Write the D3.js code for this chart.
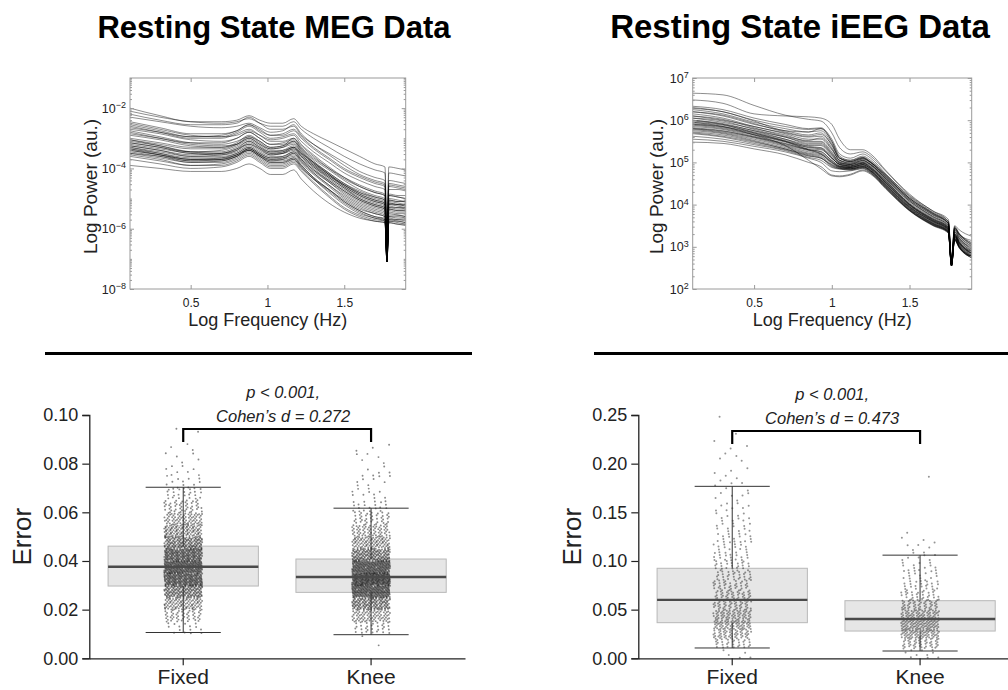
<!DOCTYPE html>
<html><head><meta charset="utf-8">
<script src="https://cdn.jsdelivr.net/npm/d3@7"></script>
<style>body{margin:0;background:#fff;} svg{display:block;font-family:"Liberation Sans",Arial,Helvetica,sans-serif;}</style>
</head><body><svg id="c" width="1008" height="690"></svg>
<script>
// ---------------- DATA ----------------
const panelTitles = ["Resting State MEG Data", "Resting State iEEG Data"];
const categories = ["Fixed", "Knee"];
const freqTicks = [0.5, 1, 1.5];
const freqDomain = [0.105, 1.9];
const megPowerDomain = [1e-8, 1e-1];
const megPowerTicks = [1e-8, 1e-6, 1e-4, 1e-2];
const ieegPowerDomain = [1e2, 1e7];
const ieegPowerTicks = [1e2, 1e3, 1e4, 1e5, 1e6, 1e7];

// log10 frequency sample points and log10 power per spectrum
const megFreqLog = [0.105,0.3,0.5,0.7,0.8,0.88,0.95,1.02,1.10,1.17,1.22,1.30,1.40,1.50,1.60,1.70,1.765,1.778,1.79,1.85,1.9];
const megSpectra = [
 [-2.0,-2.25,-2.45,-2.45,-2.4,-2.25,-2.4,-2.5,-2.5,-2.35,-2.6,-2.85,-3.1,-3.35,-3.6,-3.85,-3.95,-6.2,-3.95,-4.0,-4.05],
 [-2.1,-2.3,-2.45,-2.5,-2.45,-2.35,-2.5,-2.6,-2.6,-2.45,-2.7,-3.0,-3.3,-3.6,-3.85,-4.05,-4.15,-6.4,-4.15,-4.2,-4.25],
 [-2.2,-2.4,-2.55,-2.55,-2.5,-2.3,-2.5,-2.7,-2.7,-2.6,-2.9,-3.2,-3.5,-3.8,-4.1,-4.3,-4.4,-6.5,-4.4,-4.45,-4.5],
 [-2.3,-2.45,-2.6,-2.65,-2.6,-2.5,-2.65,-2.8,-2.75,-2.55,-2.85,-3.2,-3.55,-3.9,-4.2,-4.4,-4.5,-6.6,-4.5,-4.55,-4.6],
 [-2.55,-2.75,-2.95,-2.95,-2.8,-2.6,-2.8,-3.0,-2.95,-2.85,-3.1,-3.45,-3.8,-4.15,-4.4,-4.6,-4.7,-6.8,-4.7,-4.7,-4.75],
 [-2.6,-2.8,-3.0,-3.0,-2.85,-2.7,-2.9,-3.1,-3.1,-3.0,-3.25,-3.6,-4.0,-4.35,-4.6,-4.8,-4.9,-6.9,-4.9,-4.95,-5.0],
 [-2.7,-2.85,-3.05,-3.1,-3.0,-2.8,-3.0,-3.2,-3.15,-3.05,-3.35,-3.75,-4.15,-4.5,-4.75,-4.95,-5.05,-7.0,-5.05,-5.1,-5.1],
 [-2.75,-2.95,-3.15,-3.2,-3.1,-2.95,-3.1,-3.3,-3.25,-3.15,-3.45,-3.85,-4.25,-4.6,-4.9,-5.1,-5.2,-7.0,-5.2,-5.2,-5.25],
 [-2.8,-3.0,-3.2,-3.25,-3.2,-3.0,-3.2,-3.4,-3.4,-3.3,-3.55,-3.9,-4.3,-4.65,-5.0,-5.2,-5.3,-7.1,-5.3,-5.3,-5.35],
 [-3.05,-3.2,-3.35,-3.35,-3.2,-2.95,-3.15,-3.35,-3.3,-3.1,-3.35,-3.7,-4.05,-4.4,-4.7,-4.9,-5.0,-6.9,-5.0,-5.05,-5.1],
 [-3.1,-3.25,-3.45,-3.5,-3.4,-3.2,-3.35,-3.5,-3.5,-3.4,-3.65,-4.0,-4.4,-4.75,-5.05,-5.25,-5.35,-7.0,-5.35,-5.4,-5.4],
 [-3.15,-3.3,-3.45,-3.4,-3.25,-3.05,-3.25,-3.45,-3.45,-3.3,-3.5,-3.8,-4.15,-4.5,-4.8,-5.0,-5.1,-7.0,-5.1,-5.15,-5.2],
 [-3.2,-3.35,-3.5,-3.55,-3.45,-3.25,-3.45,-3.6,-3.6,-3.45,-3.7,-4.05,-4.45,-4.85,-5.15,-5.35,-5.45,-7.1,-5.45,-5.5,-5.5],
 [-3.25,-3.4,-3.6,-3.6,-3.5,-3.3,-3.5,-3.65,-3.65,-3.55,-3.8,-4.15,-4.55,-4.95,-5.25,-5.45,-5.55,-7.1,-5.55,-5.55,-5.6],
 [-3.3,-3.45,-3.6,-3.55,-3.4,-3.15,-3.35,-3.55,-3.5,-3.35,-3.6,-3.95,-4.3,-4.65,-4.95,-5.15,-5.25,-7.0,-5.25,-5.3,-5.3],
 [-3.35,-3.5,-3.65,-3.65,-3.55,-3.35,-3.55,-3.7,-3.7,-3.6,-3.85,-4.2,-4.6,-5.0,-5.3,-5.5,-5.6,-7.1,-5.6,-5.65,-5.65],
 [-3.4,-3.55,-3.7,-3.7,-3.6,-3.4,-3.6,-3.75,-3.75,-3.65,-3.9,-4.3,-4.7,-5.1,-5.4,-5.6,-5.7,-7.1,-5.7,-5.7,-5.75],
 [-3.45,-3.6,-3.8,-3.8,-3.65,-3.45,-3.65,-3.85,-3.85,-3.7,-3.95,-4.35,-4.75,-5.15,-5.45,-5.65,-5.7,-7.1,-5.7,-5.75,-5.8],
 [-3.5,-3.65,-3.8,-3.75,-3.6,-3.35,-3.55,-3.75,-3.7,-3.5,-3.75,-4.1,-4.45,-4.8,-5.1,-5.3,-5.4,-7.0,-5.4,-5.45,-5.45],
 [-3.55,-3.7,-3.9,-3.9,-3.75,-3.55,-3.75,-3.95,-3.95,-3.8,-4.05,-4.45,-4.9,-5.3,-5.55,-5.7,-5.75,-7.1,-5.75,-5.8,-5.85],
 [-3.6,-3.75,-3.9,-3.85,-3.7,-3.5,-3.7,-3.9,-3.9,-3.75,-4.0,-4.35,-4.7,-5.05,-5.35,-5.5,-5.6,-7.0,-5.6,-5.6,-5.65],
 [-3.7,-3.85,-4.0,-3.95,-3.8,-3.6,-3.8,-4.0,-4.0,-3.85,-4.1,-4.5,-4.95,-5.35,-5.6,-5.75,-5.8,-7.1,-5.8,-5.85,-5.85],
 [-3.9,-4.0,-4.1,-4.1,-4.0,-3.85,-4.0,-4.2,-4.2,-4.05,-4.35,-4.75,-5.15,-5.45,-5.65,-5.75,-5.8,-7.1,-5.8,-5.85,-5.9],
 [-2.65,-2.8,-2.95,-2.9,-2.75,-2.55,-2.7,-2.9,-2.9,-2.75,-3.0,-3.35,-3.7,-4.05,-4.3,-4.5,-4.6,-6.7,-4.6,-4.65,-4.7],
 [-3.0,-3.15,-3.3,-3.3,-3.15,-2.9,-3.1,-3.3,-3.25,-3.0,-3.3,-3.65,-4.0,-4.3,-4.55,-4.75,-4.85,-6.8,-4.85,-4.9,-4.9],
 [-3.35,-3.55,-3.75,-3.75,-3.6,-3.4,-3.6,-3.8,-3.8,-3.7,-3.95,-4.35,-4.8,-5.2,-5.5,-5.65,-5.75,-7.1,-5.75,-5.75,-5.8],
 [-2.9,-3.05,-3.25,-3.3,-3.2,-3.0,-3.2,-3.35,-3.3,-3.2,-3.45,-3.8,-4.2,-4.55,-4.85,-5.05,-5.15,-7.0,-5.15,-5.2,-5.2],
 [-3.25,-3.4,-3.55,-3.5,-3.35,-3.1,-3.3,-3.5,-3.45,-3.3,-3.55,-3.9,-4.25,-4.55,-4.8,-4.95,-5.05,-6.9,-5.05,-5.1,-5.1],
 [-2.45,-2.65,-2.85,-2.85,-2.75,-2.55,-2.75,-2.9,-2.85,-2.7,-2.95,-3.3,-3.65,-4.0,-4.25,-4.45,-4.55,-6.6,-4.55,-4.6,-4.65],
 [-2.85,-3.0,-3.15,-3.15,-3.0,-2.8,-3.0,-3.2,-3.2,-3.1,-3.4,-3.8,-4.2,-4.6,-4.9,-5.1,-5.2,-7.0,-5.2,-5.25,-5.3],
 [-3.05,-3.25,-3.45,-3.45,-3.3,-3.1,-3.3,-3.45,-3.4,-3.25,-3.5,-3.85,-4.2,-4.55,-4.85,-5.05,-5.15,-6.9,-5.15,-5.2,-5.25],
 [-3.15,-3.3,-3.5,-3.5,-3.35,-3.2,-3.4,-3.55,-3.5,-3.35,-3.6,-3.95,-4.35,-4.7,-5.0,-5.2,-5.3,-7.0,-5.3,-5.35,-5.35],
 [-3.4,-3.55,-3.7,-3.65,-3.5,-3.3,-3.5,-3.65,-3.6,-3.45,-3.7,-4.05,-4.4,-4.75,-5.05,-5.25,-5.35,-7.0,-5.35,-5.4,-5.4],
 [-3.5,-3.6,-3.75,-3.7,-3.55,-3.4,-3.6,-3.8,-3.8,-3.65,-3.9,-4.3,-4.7,-5.1,-5.4,-5.6,-5.65,-7.1,-5.65,-5.7,-5.7],
 [-2.5,-2.7,-2.9,-2.95,-2.9,-2.75,-2.9,-3.05,-3.0,-2.9,-3.2,-3.55,-3.95,-4.3,-4.6,-4.8,-4.9,-6.9,-4.9,-4.95,-5.0],
 [-3.3,-3.5,-3.7,-3.7,-3.55,-3.35,-3.55,-3.7,-3.65,-3.5,-3.75,-4.15,-4.55,-4.9,-5.2,-5.4,-5.5,-7.0,-5.5,-5.55,-5.6]
];

const ieegFreqLog = [0.105,0.3,0.5,0.7,0.85,0.93,1.0,1.05,1.12,1.2,1.25,1.35,1.5,1.65,1.75,1.77,1.79,1.82,1.9];
const ieegSpectra = [
 [6.64,6.6,6.35,6.12,6.02,5.98,5.7,5.35,5.2,5.25,5.15,4.78,4.22,3.85,3.6,2.7,3.45,3.3,3.15],
 [6.48,6.4,6.15,6.1,6.08,6.05,5.9,5.55,5.3,5.3,5.2,4.8,4.25,3.85,3.65,2.75,3.5,3.4,3.25],
 [6.33,6.25,6.05,5.9,5.8,5.82,5.55,5.2,5.1,5.2,5.1,4.72,4.18,3.8,3.55,2.7,3.45,3.3,3.05],
 [6.28,6.2,6.0,5.85,5.78,5.8,5.5,5.15,5.05,5.15,5.05,4.7,4.15,3.78,3.55,2.65,3.4,3.25,3.0],
 [6.25,6.15,5.95,5.8,5.72,5.75,5.45,5.1,5.05,5.12,5.0,4.68,4.12,3.75,3.52,2.65,3.38,3.22,2.98],
 [6.2,6.1,5.9,5.75,5.65,5.7,5.4,5.1,5.02,5.1,5.0,4.65,4.1,3.72,3.5,2.62,3.35,3.2,2.95],
 [6.15,6.05,5.85,5.7,5.6,5.62,5.35,5.05,5.0,5.08,4.98,4.62,4.08,3.7,3.48,2.62,3.32,3.18,2.92],
 [6.1,6.0,5.85,5.68,5.55,5.55,5.3,5.05,4.98,5.05,4.95,4.6,4.05,3.68,3.46,2.6,3.3,3.15,2.9],
 [6.05,5.95,5.8,5.65,5.5,5.5,5.25,5.0,4.95,5.05,4.95,4.58,4.02,3.66,3.45,2.6,3.3,3.12,2.88],
 [6.0,5.92,5.75,5.6,5.45,5.45,5.2,5.0,4.95,5.0,4.92,4.56,4.0,3.65,3.44,2.6,3.28,3.1,2.85],
 [5.95,5.88,5.72,5.55,5.42,5.4,5.15,4.98,4.92,5.0,4.9,4.55,4.0,3.63,3.42,2.58,3.27,3.1,2.85],
 [5.92,5.85,5.7,5.52,5.38,5.35,5.12,4.95,4.92,4.98,4.88,4.52,3.98,3.62,3.42,2.58,3.25,3.08,2.83],
 [5.9,5.82,5.66,5.5,5.35,5.32,5.1,4.95,4.9,4.98,4.88,4.5,3.96,3.6,3.4,2.58,3.25,3.08,2.82],
 [5.88,5.8,5.65,5.48,5.32,5.3,5.1,4.95,4.9,4.95,4.85,4.5,3.95,3.6,3.4,2.56,3.24,3.06,2.8],
 [5.85,5.78,5.62,5.45,5.3,5.25,5.05,4.92,4.88,4.95,4.85,4.48,3.94,3.58,3.38,2.56,3.22,3.05,2.8],
 [5.82,5.75,5.6,5.42,5.28,5.22,5.02,4.9,4.88,4.92,4.82,4.46,3.92,3.57,3.38,2.55,3.22,3.04,2.78],
 [5.8,5.72,5.58,5.4,5.25,5.2,5.0,4.9,4.86,4.92,4.82,4.45,3.92,3.56,3.37,2.55,3.2,3.02,2.78],
 [5.78,5.7,5.55,5.38,5.22,5.18,4.98,4.88,4.85,4.9,4.8,4.44,3.9,3.55,3.36,2.55,3.2,3.02,2.77],
 [5.75,5.68,5.52,5.35,5.2,5.15,4.95,4.88,4.85,4.9,4.8,4.42,3.9,3.55,3.36,2.55,3.19,3.0,2.77],
 [5.72,5.65,5.5,5.32,5.18,5.12,4.92,4.86,4.84,4.88,4.78,4.42,3.88,3.54,3.35,2.55,3.18,3.0,2.76],
 [5.68,5.6,5.45,5.3,5.15,5.1,4.9,4.85,4.82,4.88,4.78,4.4,3.88,3.53,3.35,2.55,3.18,3.0,2.76],
 [5.62,5.55,5.42,5.28,5.12,5.05,4.88,4.84,4.82,4.86,4.76,4.4,3.87,3.52,3.34,2.55,3.17,2.99,2.75],
 [5.55,5.5,5.38,5.25,5.1,5.0,4.8,4.78,4.8,4.85,4.75,4.38,3.86,3.52,3.34,2.55,3.17,2.98,2.75],
 [5.48,5.45,5.32,5.18,5.0,4.9,4.7,4.68,4.72,4.82,4.74,4.38,3.86,3.51,3.33,2.55,3.16,2.98,2.74],
 [5.95,5.85,5.65,5.4,5.05,4.85,4.68,4.66,4.7,4.8,4.72,4.36,3.85,3.5,3.32,2.55,3.15,2.97,2.74],
 [6.3,6.2,5.98,5.75,5.72,5.8,5.5,5.12,5.02,5.12,5.02,4.7,4.2,3.82,3.6,2.7,3.48,3.32,3.1],
 [6.1,6.02,5.82,5.62,5.52,5.58,5.32,5.05,4.98,5.08,5.0,4.66,4.15,3.8,3.58,2.68,3.45,3.3,3.08],
 [5.98,5.9,5.75,5.55,5.4,5.42,5.18,4.98,4.95,5.02,4.95,4.62,4.12,3.76,3.55,2.66,3.42,3.28,3.05],
 [6.05,5.98,5.78,5.6,5.48,5.48,5.22,5.02,4.96,5.04,4.94,4.6,4.08,3.72,3.5,2.62,3.35,3.2,2.95],
 [5.9,5.84,5.68,5.5,5.36,5.34,5.1,4.96,4.92,4.98,4.88,4.54,4.02,3.66,3.46,2.6,3.3,3.15,2.9],
 [5.7,5.62,5.48,5.32,5.16,5.1,4.94,4.86,4.84,4.9,4.8,4.45,3.94,3.6,3.4,2.58,3.24,3.08,2.84],
 [6.2,6.12,5.92,5.72,5.62,5.66,5.42,5.1,5.02,5.1,5.0,4.66,4.15,3.78,3.55,2.66,3.42,3.26,3.02],
 [5.8,5.74,5.6,5.44,5.3,5.26,5.04,4.92,4.88,4.94,4.84,4.5,3.98,3.62,3.42,2.58,3.26,3.1,2.86],
 [6.0,5.9,5.7,5.5,5.3,5.2,5.0,4.9,4.88,4.95,4.86,4.52,4.0,3.64,3.44,2.6,3.28,3.12,2.88]
];

// Box plot summaries (Fixed, Knee)
const megErrTicks = [0, 0.02, 0.04, 0.06, 0.08, 0.10];
const megMedian = [0.0376, 0.0334];
const megQ1 = [0.0297, 0.0271];
const megQ3 = [0.0461, 0.0408];
const megWhiskLo = [0.0106, 0.0097];
const megWhiskHi = [0.0703, 0.0617];
const ieegErrTicks = [0, 0.05, 0.10, 0.15, 0.20, 0.25];
const ieegMedian = [0.060, 0.0404];
const ieegQ1 = [0.0366, 0.028];
const ieegQ3 = [0.0925, 0.0592];
const ieegWhiskLo = [0.0106, 0.0075];
const ieegWhiskHi = [0.1767, 0.106];

// Error distributions: point counts per bin
const megBinStart = 0.005, megBinWidth = 0.005;
const megFixedCounts = [0,15,50,100,170,240,260,220,160,110,75,45,25,12,8,5,3,2];
const megKneeCounts  = [2,30,80,160,260,320,260,170,100,65,40,20,10,8,6,5,3];
const ieegBinStart = 0.0, ieegBinWidth = 0.01;
const ieegFixedCounts = [5,30,55,70,65,50,45,35,30,25,20,16,14,12,10,8,6,4,4,3,3,3,1,1,1];
const ieegKneeCounts  = [10,45,75,85,70,50,30,22,15,12,8,5,3,0,0,0,0,0,1];

const statLines = [["p < 0.001,", "Cohen\u2019s d = 0.272"], ["p < 0.001,", "Cohen\u2019s d = 0.473"]];

// ---------------- DRAW ----------------
const svg = d3.select("#c");
const TXT = "#222";

function frac(v){ return v - Math.floor(v); }

function drawSpectrum(frame, yDomain, yTicks, freqs, spectra, clipId){
  const g = svg.append("g");
  const x = d3.scaleLinear().domain(freqDomain).range([frame.x0, frame.x1]);
  const y = d3.scaleLog().domain(yDomain).range([frame.y1, frame.y0]);
  g.append("clipPath").attr("id", clipId).append("rect")
    .attr("x", frame.x0).attr("y", frame.y0).attr("width", frame.x1-frame.x0).attr("height", frame.y1-frame.y0);
  const line = d3.line().x((d,i)=>x(freqs[i])).y(d=>y(Math.pow(10,d))).curve(d3.curveMonotoneX);
  g.append("g").attr("clip-path", `url(#${clipId})`).selectAll("path").data(spectra).join("path")
    .attr("d", line).attr("fill","none").attr("stroke","#000").attr("stroke-width",0.6).attr("stroke-opacity",0.75);
  const minors = [];
  const e0 = Math.round(Math.log10(yDomain[0])), e1 = Math.round(Math.log10(yDomain[1]));
  for(let e=e0;e<e1;e++) for(let m=2;m<=9;m++) minors.push(m*Math.pow(10,e));
  for(let e=e0;e<=e1;e++) if(!yTicks.includes(Math.pow(10,e))) minors.push(Math.pow(10,e));
  const frameC = "#9a9a9a";
  const styl = s => { s.select(".domain").remove(); s.selectAll("line").attr("stroke", frameC); };
  g.append("g").attr("transform",`translate(${frame.x0},0)`).call(d3.axisLeft(y).tickValues(minors).tickSizeInner(-2).tickSizeOuter(0).tickFormat("")).call(styl);
  g.append("g").attr("transform",`translate(${frame.x1},0)`).call(d3.axisRight(y).tickValues(minors).tickSizeInner(-2).tickSizeOuter(0).tickFormat("")).call(styl);
  g.append("g").attr("transform",`translate(${frame.x1},0)`).call(d3.axisRight(y).tickValues(yTicks).tickSizeInner(-4).tickSizeOuter(0).tickFormat("")).call(styl);
  g.append("g").attr("transform",`translate(0,${frame.y0})`).call(d3.axisTop(x).tickValues(freqTicks).tickSizeInner(-4).tickSizeOuter(0).tickFormat("")).call(styl);
  const xa = g.append("g").attr("transform",`translate(0,${frame.y1})`)
    .call(d3.axisBottom(x).tickValues(freqTicks).tickSizeInner(-4).tickSizeOuter(0).tickPadding(9).tickFormat(d=>d3.format("")(d))).call(styl);
  xa.selectAll("text").attr("font-size",12).attr("fill",TXT).attr("font-family","inherit");
  const ya = g.append("g").attr("transform",`translate(${frame.x0},0)`)
    .call(d3.axisLeft(y).tickValues(yTicks).tickSizeInner(-4).tickSizeOuter(0).tickPadding(4)).call(styl);
  ya.selectAll("text").attr("font-size",12.5).attr("fill",TXT).attr("font-family","inherit").each(function(d){
    const t = d3.select(this).text(null);
    t.append("tspan").text("10");
    t.append("tspan").attr("dy","-0.5em").attr("font-size","0.72em").text(String(Math.round(Math.log10(d))).replace("-","\u2212"));
  });
  g.append("rect").attr("x",frame.x0).attr("y",frame.y0).attr("width",frame.x1-frame.x0).attr("height",frame.y1-frame.y0)
    .attr("fill","none").attr("stroke",frameC).attr("stroke-width",1);
  g.append("text").attr("x",(frame.x0+frame.x1)/2).attr("y",frame.y1+37).attr("text-anchor","middle")
    .attr("font-size",18).attr("fill",TXT).text("Log Frequency (Hz)");
  g.append("text").attr("transform",`translate(${frame.x0-frame.labelOff},${(frame.y0+frame.y1)/2+3}) rotate(-90)`)
    .attr("text-anchor","middle").attr("dy","0.35em").attr("font-size",19).attr("fill",TXT).text("Log Power (au.)");
}

function drawBox(area, ticks, med, q1, q3, wlo, whi, binStart, binW, countsList, stat){
  const g = svg.append("g");
  const x = d3.scaleBand().domain(categories).range([area.x0, area.x1]).paddingInner(0).paddingOuter(0);
  const y = d3.scaleLinear().domain([ticks[0], ticks[ticks.length-1]]).range([area.y1, area.y0]);
  const bw = x.bandwidth()*0.8, cx = c => x(c)+x.bandwidth()/2;
  g.selectAll("rect.box").data(categories).join("rect").attr("class","box")
    .attr("x", c=>cx(c)-bw/2).attr("width", bw)
    .attr("y", (c,i)=>y(q3[i])).attr("height",(c,i)=>y(q1[i])-y(q3[i]))
    .attr("fill","#e6e6e6").attr("stroke","#b8b8b8").attr("stroke-width",1);
  const pts = [];
  countsList.forEach((counts, ci) => {
    let j = 0;
    counts.forEach((n, b) => {
      for(let k=0;k<n;k++){ j++;
        pts.push({c: categories[ci], v: binStart + b*binW + frac(j*0.7548776662+0.31)*binW, jx: frac(j*0.5698402910+0.13)});
      }
    });
  });
  g.append("g").selectAll("circle").data(pts).join("circle")
    .attr("cx", d=>cx(d.c)+(d.jx-0.5)*38).attr("cy", d=>y(d.v)).attr("r",area.r)
    .attr("fill","#111").attr("fill-opacity",area.op);
  categories.forEach((c,i)=>{
    g.append("line").attr("x1",cx(c)).attr("x2",cx(c)).attr("y1",y(wlo[i])).attr("y2",y(q1[i])).attr("stroke","#333").attr("stroke-width",1);
    g.append("line").attr("x1",cx(c)).attr("x2",cx(c)).attr("y1",y(q3[i])).attr("y2",y(whi[i])).attr("stroke","#333").attr("stroke-width",1);
    [wlo[i], whi[i]].forEach(v=> g.append("line").attr("x1",cx(c)-bw/4).attr("x2",cx(c)+bw/4).attr("y1",y(v)).attr("y2",y(v)).attr("stroke","#333").attr("stroke-width",1));
    g.append("line").attr("x1",cx(c)-bw/2).attr("x2",cx(c)+bw/2).attr("y1",y(med[i])).attr("y2",y(med[i])).attr("stroke","#4a4a4a").attr("stroke-width",2.4);
  });
  const ya = g.append("g").attr("transform",`translate(${area.x0},0)`)
    .call(d3.axisLeft(y).tickValues(ticks).tickFormat(d3.format(".2f")).tickSize(7).tickPadding(4));
  ya.selectAll("text").attr("font-size",18).attr("fill",TXT).attr("font-family","inherit");
  const xa = g.append("g").attr("transform",`translate(0,${area.y1})`)
    .call(d3.axisBottom(x).tickSize(7).tickSizeOuter(0).tickPadding(4));
  xa.selectAll("text").attr("font-size",21).attr("fill",TXT).attr("font-family","inherit");
  [ya, xa].forEach(a=>{ a.select(".domain").attr("stroke","#222").attr("stroke-width",1.3); a.selectAll(".tick line").attr("stroke","#222").attr("stroke-width",1.2); });
  g.append("text").attr("transform",`translate(${area.labelX},${(area.y0+area.y1)/2}) rotate(-90)`)
    .attr("text-anchor","middle").attr("dy","0.35em").attr("font-size",26).attr("fill",TXT).text("Error");
  const bx1 = cx(categories[0]), bx2 = cx(categories[1]);
  g.append("path").attr("d",`M${bx1},${area.brY+13}V${area.brY}H${bx2}V${area.brY+13}`)
    .attr("fill","none").attr("stroke","#000").attr("stroke-width",2.2);
  g.append("text").attr("x",(bx1+bx2)/2+6).attr("y",area.brY-31).attr("text-anchor","middle")
    .attr("font-size",16.5).attr("font-style","italic").attr("fill",TXT).text(stat[0]);
  g.append("text").attr("x",(bx1+bx2)/2+6).attr("y",area.brY-7.5).attr("text-anchor","middle")
    .attr("font-size",16.5).attr("font-style","italic").attr("fill",TXT).text(stat[1]);
}

// titles
[[274, 31, panelTitles[0]], [800, 33, panelTitles[1]]].forEach(([cx, fs, t]) =>
  svg.append("text").attr("x",cx).attr("y",38).attr("text-anchor","middle").attr("font-size",fs)
    .attr("font-weight","bold").attr("fill","#000").text(t));

drawSpectrum({x0:130, x1:405.7, y0:78, y1:289, labelOff:40}, megPowerDomain, megPowerTicks, megFreqLog, megSpectra, "clipA");
drawSpectrum({x0:692.7, x1:971.7, y0:78, y1:289, labelOff:36}, ieegPowerDomain, ieegPowerTicks, ieegFreqLog, ieegSpectra, "clipB");

// separators
svg.append("line").attr("x1",45).attr("x2",472).attr("y1",353.5).attr("y2",353.5).attr("stroke","#000").attr("stroke-width",3);
svg.append("line").attr("x1",594).attr("x2",1021).attr("y1",353.5).attr("y2",353.5).attr("stroke","#000").attr("stroke-width",3);

drawBox({x0:89.3, x1:465, y0:415, y1:658.3, labelX:22, brY:429, r:0.95, op:0.5}, megErrTicks, megMedian, megQ1, megQ3, megWhiskLo, megWhiskHi,
  megBinStart, megBinWidth, [megFixedCounts, megKneeCounts], statLines[0]);
drawBox({x0:638.3, x1:1014, y0:415, y1:658.3, labelX:572, brY:431, r:1, op:0.45}, ieegErrTicks, ieegMedian, ieegQ1, ieegQ3, ieegWhiskLo, ieegWhiskHi,
  ieegBinStart, ieegBinWidth, [ieegFixedCounts, ieegKneeCounts], statLines[1]);
</script></body></html>
